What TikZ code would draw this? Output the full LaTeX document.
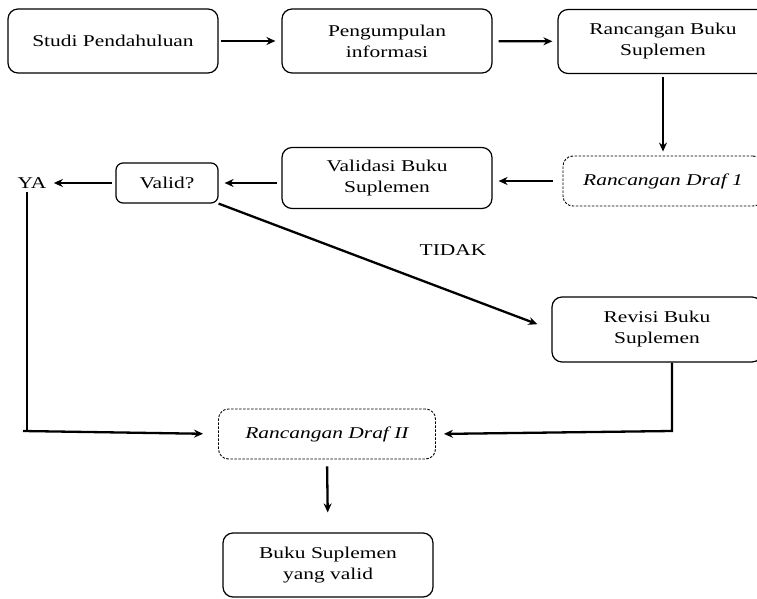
\documentclass[tikz,border=0pt]{standalone}
\usepackage{fontspec}
\setmainfont{Liberation Serif}[FakeStretch=1.3]
\usepackage{tikz}
\usetikzlibrary{positioning, calc, arrows.meta}

\tikzset{
    kotak/.style={draw, line width=1.2pt, rounded corners=10pt, align=center,
        minimum width=210pt, minimum height=64pt, inner sep=2pt,
        font=\fontsize{16.5}{21}\selectfont},
    draf/.style={kotak, dashed, dash pattern=on 2.5pt off 1.5pt, line width=0.9pt,
        minimum height=50pt, font=\fontsize{16.5}{21}\selectfont\itshape},
    label/.style={font=\fontsize{16.5}{21}\selectfont},
    garis/.style={line width=2.3pt},
}

\begin{document}
\begin{tikzpicture}[>={Stealth[length=9pt,width=8pt]}, x=1pt, y=-1pt]
    \useasboundingbox (0,0) rectangle (757,599);
    \clip (0,0) rectangle (757,599);
    % baris atas
    \node[kotak] (studi) at (113,41) {Studi Pendahuluan};
    \node[kotak] (info) at (387,41) {Pengumpulan\\informasi};
    \node[kotak] (rancang) at (663,41.5) {Rancangan Buku\\Suplemen};
    % baris kedua
    \node[draf, minimum width=200pt] (draf1) at (663,181) {Rancangan Draf 1};
    \node[kotak, minimum height=61pt] (validasi) at (387,178) {Validasi Buku\\Suplemen};
    \node[kotak, minimum width=102pt, minimum height=40pt, rounded corners=7pt] (valid) at (167,183) {Valid?};
    \node[label] (ya) at (32,183) {YA};
    \node[label] (tidak) at (453,250) {TIDAK};
    % revisi dan hasil
    \node[kotak, minimum height=65pt] (revisi) at (657,329.5) {Revisi Buku\\Suplemen};
    \node[draf, minimum width=217pt] (draf2) at (327,434) {Rancangan Draf II};
    \node[kotak] (hasil) at (328,565) {Buku Suplemen\\yang valid};
    \coordinate (sudut) at (27,431);
    \coordinate (belok) at (672,431);

    \draw[garis,->,shorten <=2pt,shorten >=6pt] (studi) -- (info);
    \draw[garis,->,shorten <=6pt,shorten >=5pt] (info) -- (rancang);
    \draw[garis,->,shorten <=3pt,shorten >=4pt] (rancang.south) -- (draf1.north);
    \draw[garis,->,shorten <=10pt,shorten >=6pt] (draf1.west) -- (draf1.west -| validasi.east);
    \draw[garis,->,shorten <=4pt,shorten >=6pt] (validasi.west |- valid.east) -- (valid.east);
    \draw[garis,->,shorten <=3pt,shorten >=4pt] (valid.west) -- (ya.east);
    \draw[garis,->,shorten >=15pt] (valid.south east) -- (revisi.west);
    \draw[garis] (ya.south -| sudut) -- (sudut);
    \draw[garis,->,shorten >=15pt] ($(sudut)+(-4,0)$) -- (draf2.west);
    \draw[garis,->,shorten >=8pt] (revisi.south -| belok) -- (belok) -- (draf2.east);
    \draw[garis,->,shorten <=7pt,shorten >=20pt] (draf2.south) -- (hasil.north);
\end{tikzpicture}
\end{document}
